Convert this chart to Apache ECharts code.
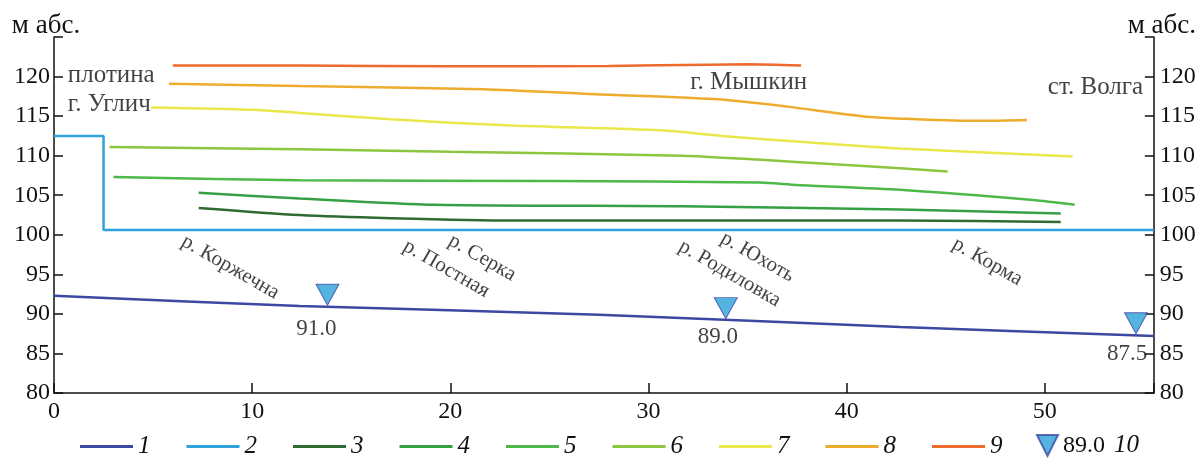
<!DOCTYPE html>
<html><head><meta charset="utf-8">
<script src="https://cdn.jsdelivr.net/npm/echarts@6/dist/echarts.min.js"></script>
<style>html,body{margin:0;padding:0;background:#fff}#c{width:1199px;height:458px}</style>
</head><body><div id="c"></div>
<script>
// ---- data (km from dam, level m abs.) ----
const line1Km = [0, 12.4, 27.5, 42.7, 55.5];
const line1Lv = [92.3, 91.0, 89.9, 88.35, 87.2];
const line2Km = [0, 2.5, 2.5, 55.5];
const line2Lv = [112.5, 112.5, 100.6, 100.6];
const line3Km = [7.3, 12.4, 17, 23.1, 42.7, 50.8];
const line3Lv = [103.4, 102.5, 102.1, 101.8, 101.8, 101.6];
const line4Km = [7.3, 12.4, 19.2, 31.7, 42.7, 50.8];
const line4Lv = [105.3, 104.6, 103.8, 103.6, 103.2, 102.7];
const line5Km = [3.0, 12.4, 25, 35.6, 37.5, 42.7, 49.4, 51.5];
const line5Lv = [107.3, 106.9, 106.8, 106.6, 106.3, 105.7, 104.4, 103.8];
const line6Km = [2.8, 12.4, 20, 31.7, 35.5, 39.4, 42.7, 45.1];
const line6Lv = [111.1, 110.8, 110.5, 110.0, 109.5, 108.9, 108.4, 108.0];
const line7Km = [4.9, 10, 12.4, 17, 23.1, 30.6, 33.7, 38, 42.7, 51.4];
const line7Lv = [116.1, 115.8, 115.4, 114.6, 113.8, 113.2, 112.5, 111.7, 110.9, 109.9];
const line8Km = [5.8, 12.4, 21.7, 27, 33.3, 37, 41.2, 47.1, 49.1];
const line8Lv = [119.1, 118.8, 118.4, 117.8, 117.15, 116.2, 114.9, 114.4, 114.5];
const line9Km = [6, 12.4, 20, 28, 33, 35, 37.7];
const line9Lv = [121.4, 121.4, 121.3, 121.35, 121.5, 121.55, 121.4];

// gauge markers: position of triangle tip and printed level
const markerKm = [13.8, 33.9, 54.6];
const markerTipLv = [91.1, 89.4, 87.5];
const markerLabels = ['91.0', '89.0', '87.5'];

const riverNames = ['р. Коржечна', 'р. Постная', 'р. Серка', 'р. Родиловка', 'р. Юхоть', 'р. Корма'];
const riverKm = [8.9, 19.8, 21.6, 34.1, 35.5, 47.1];
const riverLv = [95.9, 95.7, 97.1, 95.1, 97.2, 96.6];

const noteNames = ['плотина', 'г. Углич', 'г. Мышкин', 'ст. Волга'];
const noteKm = [0.7, 0.7, 32.1, 50.15];
const noteLv = [120.1, 116.5, 119.2, 118.6];

const xTicks = [0, 10, 20, 30, 40, 50];
const yTicks = [80, 85, 90, 95, 100, 105, 110, 115, 120];
const legendNames = ['1', '2', '3', '4', '5', '6', '7', '8', '9'];

// ---- styles ----
const FONT = 'Liberation Serif';
const INK = '#111';
const colors = ['#3d48a2', '#2ea2db', '#2f6b30', '#35a043', '#4db94a', '#8cc63f', '#e9e84b', '#eeac2f', '#ee6a2d'];

const zip = (a, b) => a.map((v, i) => [v, b[i]]);
const lineSets = [
  [line1Km, line1Lv], [line2Km, line2Lv], [line3Km, line3Lv], [line4Km, line4Lv],
  [line5Km, line5Lv], [line6Km, line6Lv], [line7Km, line7Lv], [line8Km, line8Lv], [line9Km, line9Lv]
];

const series = lineSets.map((s, i) => ({
  name: legendNames[i],
  type: 'line',
  data: zip(s[0], s[1]),
  symbol: 'none',
  smooth: i === 1 ? false : 0.25,
  lineStyle: { color: colors[i], width: 2.5 },
  itemStyle: { color: colors[i] },
  z: 3
}));

const labelOffsets = [[-11, 34], [-8, 29], [-9, 31]];
series.push({
  name: '10',
  type: 'scatter',
  data: zip(markerKm, markerTipLv).map((p, i) => ({
    value: p,
    name: markerLabels[i],
    label: { offset: labelOffsets[i] }
  })),
  symbol: 'path://M0,0 L10,0 L5,10 Z',
  symbolSize: [23, 21],
  symbolOffset: [0, '-50%'],
  itemStyle: { color: '#2ba0da', borderColor: '#3d48a2', borderWidth: 1 },
  label: {
    show: true, position: 'inside',
    formatter: p => p.name,
    fontFamily: FONT, fontSize: 23, color: INK
  },
  z: 5
});

series.push({
  name: 'rivers',
  type: 'scatter',
  data: zip(riverKm, riverLv).map((p, i) => ({ value: p, name: riverNames[i] })),
  symbolSize: 0,
  label: {
    show: true, position: 'inside', rotate: -30,
    align: 'center', verticalAlign: 'middle',
    formatter: p => p.name,
    fontFamily: FONT, fontSize: 21, color: INK
  },
  silent: true, z: 4
});

series.push({
  name: 'notes',
  type: 'scatter',
  data: zip(noteKm, noteLv).map((p, i) => ({ value: p, name: noteNames[i] })),
  symbolSize: 0,
  label: {
    show: true, position: 'inside',
    align: 'left', verticalAlign: 'middle',
    formatter: p => p.name,
    fontFamily: FONT, fontSize: 25, color: INK
  },
  silent: true, z: 4
});

const yAxisBase = (pos) => ({
  type: 'value', position: pos, min: 80, max: 125, interval: 5,
  name: 'м абс.', nameLocation: 'end', nameGap: -2,
  nameTextStyle: {
    fontFamily: FONT, fontSize: 27, color: INK, align: 'center',
    padding: pos === 'left' ? [0, 16, 0, 0] : [0, 0, 0, 16]
  },
  axisLine: { show: true, lineStyle: { color: INK, width: 1.5 } },
  axisTick: { show: true, inside: true, length: 9, lineStyle: { color: INK, width: 1.5 } },
  axisLabel: {
    fontFamily: FONT, fontSize: 24, color: INK, margin: pos === 'left' ? 4 : 6,
    formatter: v => (yTicks.indexOf(v) >= 0 ? String(v) : '')
  },
  splitLine: { show: false }
});

const option = {
  animation: false,
  backgroundColor: '#fff',
  grid: { left: 54, right: 45, top: 37, bottom: 65 },
  xAxis: {
    type: 'value', min: 0, max: 55.5, interval: 10,
    axisLine: { show: true, lineStyle: { color: INK, width: 1.5 } },
    axisTick: { show: true, inside: true, length: 10, lineStyle: { color: INK, width: 1.5 } },
    axisLabel: {
      fontFamily: FONT, fontSize: 24, color: INK, margin: 7,
      formatter: v => (xTicks.indexOf(v) >= 0 ? String(v) : '')
    },
    splitLine: { show: false }
  },
  yAxis: [yAxisBase('left'), yAxisBase('right')],
  legend: [
    {
      data: legendNames.map(n => ({ name: n, icon: 'rect' })),
      left: 75, top: 429, itemWidth: 53, itemHeight: 3, itemGap: 36,
      selectedMode: false,
      textStyle: { fontFamily: FONT, fontStyle: 'italic', fontSize: 25, color: INK }
    },
    {
      data: ['10'], left: 1031, top: 428, itemWidth: 21, itemHeight: 22,
      icon: 'path://M0,0 L10,0 L5,10 Z', selectedMode: false,
      formatter: () => '{a|89.0}{b|10}',
      textStyle: {
        fontFamily: FONT, fontSize: 24, color: INK,
        rich: {
          a: { fontFamily: FONT, fontSize: 24, color: INK },
          b: { fontFamily: FONT, fontSize: 25, fontStyle: 'italic', color: INK, padding: [0, 0, 0, 9] }
        }
      }
    }
  ],
  series: series
};

const chart = echarts.init(document.getElementById('c'), null, { renderer: 'canvas' });
chart.setOption(option);
</script>
</body></html>
